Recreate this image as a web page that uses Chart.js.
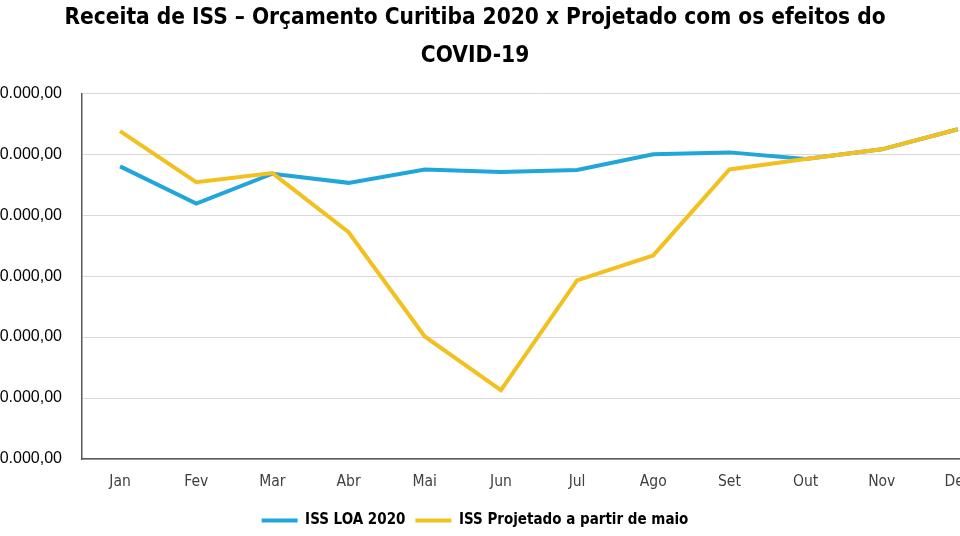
<!DOCTYPE html>
<html>
<head>
<meta charset="utf-8">
<script src="https://cdn.jsdelivr.net/npm/chart.js@4.4.1/dist/chart.umd.min.js"></script>
<style>
  html, body { margin: 0; padding: 0; background: #fff; overflow: hidden; width: 960px; height: 536px; }
  #wrap { position: absolute; left: -100px; top: 0; width: 1150px; height: 536px; }
</style>
</head>
<body>
<div id="wrap"><canvas id="issChart"></canvas></div>
<script>
// Dados (R$)
const months = ['Jan', 'Fev', 'Mar', 'Abr', 'Mai', 'Jun', 'Jul', 'Ago', 'Set', 'Out', 'Nov', 'Dez'];
const issLoa = [88000000, 81900000, 86800000, 85300000, 87500000, 87100000, 87400000, 90000000, 90300000, 89200000, 90800000, 94100000];
const issProjetado = [93800000, 85400000, 86900000, 77200000, 60100000, 51300000, 69300000, 73400000, 87500000, 89200000, 90800000, 94100000];
const yMin = 40000000;
const yMax = 100000000;
const yStep = 10000000;

const narrow = "'Liberation Sans Narrow', 'DejaVu Sans Condensed', sans-serif";

function formatBRL(v) {
    const int = Math.round(v).toString().replace(/\B(?=(\d{3})+(?!\d))/g, '.');
    return int + ',00';
}

const ctx = document.getElementById('issChart').getContext('2d');
new Chart(ctx, {
    type: 'line',
    data: {
        labels: months,
        datasets: [{
            label: 'ISS LOA 2020',
            data: issLoa,
            borderColor: '#21a6dc',
            backgroundColor: '#21a6dc',
            borderWidth: 4,
            pointRadius: 0,
            tension: 0,
            order: 1
        }, {
            label: 'ISS Projetado a partir de maio',
            data: issProjetado,
            borderColor: '#f2c01f',
            backgroundColor: '#f2c01f',
            borderWidth: 4,
            pointRadius: 0,
            tension: 0,
            order: 0
        }]
    },
    options: {
        responsive: true,
        maintainAspectRatio: false,
        animation: false,
        layout: {
            padding: { left: 54, right: 54, top: 0, bottom: -2 }
        },
        plugins: {
            title: {
                display: true,
                text: ['Receita de ISS \u2013 Or\u00e7amento Curitiba 2020 x Projetado com os efeitos do', 'COVID-19'],
                color: '#000',
                font: { family: narrow, size: 22.5, weight: 'bold', lineHeight: 1.65 },
                padding: { top: 0, bottom: 19 }
            },
            legend: {
                position: 'bottom',
                labels: {
                    color: '#000',
                    font: { family: narrow, size: 15, weight: 'bold' },
                    boxWidth: 36,
                    boxHeight: 4,
                    padding: 10,
                    sort: (a, b) => a.datasetIndex - b.datasetIndex,
                    generateLabels: (chart) => {
                        const items = Chart.defaults.plugins.legend.labels.generateLabels(chart);
                        items.forEach(it => { it.lineWidth = 0; it.fillStyle = it.strokeStyle; });
                        return items;
                    }
                }
            },
            tooltip: { enabled: false }
        },
        scales: {
            x: {
                offset: true,
                grid: { display: false },
                border: { display: true, color: '#595959', width: 1.5 },
                afterFit: (scale) => { scale.height = 44; },
                ticks: {
                    color: '#404040',
                    font: { family: narrow, size: 15.5 },
                    padding: 6
                }
            },
            y: {
                min: yMin,
                max: yMax,
                afterFit: (scale) => { scale.width = 128; },
                grid: { color: '#d9d9d9', lineWidth: 1, drawTicks: false },
                border: { display: true, color: '#595959', width: 1.5 },
                ticks: {
                    stepSize: yStep,
                    color: '#000',
                    font: { family: "'Liberation Sans', Arial, sans-serif", size: 16 },
                    padding: 20,
                    callback: (v) => formatBRL(v)
                }
            }
        }
    }
});
</script>
</body>
</html>
